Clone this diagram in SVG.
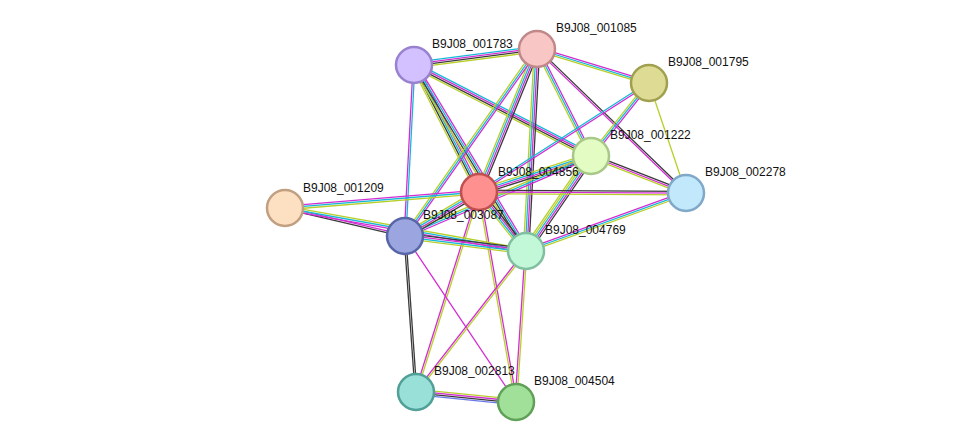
<svg xmlns="http://www.w3.org/2000/svg" width="976" height="448" viewBox="0 0 976 448">
<style>
line{stroke-width:1.3;fill:none}
.c{stroke:#16b8d8}.m{stroke:#d22cd2}.y{stroke:#b8cf2a}.k{stroke:#3a3a3a}.b{stroke:#6a78e8}
circle{stroke-width:2.5}
text{font-family:"Liberation Sans",Arial,sans-serif;font-size:12px;fill:#111}
</style>
<rect width="976" height="448" fill="#fff"/>
<g id="connectors">
<g transform="translate(414,65) rotate(-7.41)"><line class="c" x1="0" y1="-2.7" x2="124" y2="-2.7"/><line class="m" x1="0" y1="-0.9" x2="124" y2="-0.9"/><line class="k" x1="0" y1="0.9" x2="124" y2="0.9"/><line class="y" x1="0" y1="2.7" x2="124" y2="2.7"/></g>
<g transform="translate(414,65) rotate(62.9)"><line class="m" x1="0" y1="-2.7" x2="142.7" y2="-2.7"/><line class="c" x1="0" y1="-0.9" x2="142.7" y2="-0.9"/><line class="k" x1="0" y1="0.9" x2="142.7" y2="0.9"/><line class="y" x1="0" y1="2.7" x2="142.7" y2="2.7"/></g>
<g transform="translate(414,65) rotate(93)"><line class="c" x1="0" y1="-0.9" x2="171.2" y2="-0.9"/><line class="m" x1="0" y1="0.9" x2="171.2" y2="0.9"/></g>
<g transform="translate(414,65) rotate(27.2)"><line class="c" x1="0" y1="-2.7" x2="199" y2="-2.7"/><line class="m" x1="0" y1="-0.9" x2="199" y2="-0.9"/><line class="k" x1="0" y1="0.9" x2="199" y2="0.9"/><line class="y" x1="0" y1="2.7" x2="199" y2="2.7"/></g>
<g transform="translate(414,65) rotate(58.9)"><line class="m" x1="0" y1="-2.7" x2="217.1" y2="-2.7"/><line class="c" x1="0" y1="-0.9" x2="217.1" y2="-0.9"/><line class="k" x1="0" y1="0.9" x2="217.1" y2="0.9"/><line class="y" x1="0" y1="2.7" x2="217.1" y2="2.7"/></g>
<g transform="translate(537,49) rotate(16.9)"><line class="m" x1="0" y1="-1.8" x2="117" y2="-1.8"/><line class="c" x1="0" y1="0" x2="117" y2="0"/><line class="y" x1="0" y1="1.8" x2="117" y2="1.8"/></g>
<g transform="translate(537,49) rotate(63.2)"><line class="m" x1="0" y1="-1.8" x2="119.9" y2="-1.8"/><line class="c" x1="0" y1="0" x2="119.9" y2="0"/><line class="y" x1="0" y1="1.8" x2="119.9" y2="1.8"/></g>
<g transform="translate(537,49) rotate(112.1)"><line class="k" x1="0" y1="-2.7" x2="154.3" y2="-2.7"/><line class="m" x1="0" y1="-0.9" x2="154.3" y2="-0.9"/><line class="c" x1="0" y1="0.9" x2="154.3" y2="0.9"/><line class="y" x1="0" y1="2.7" x2="154.3" y2="2.7"/></g>
<g transform="translate(537,49) rotate(125.2)"><line class="m" x1="0" y1="-1.8" x2="228.9" y2="-1.8"/><line class="c" x1="0" y1="0" x2="228.9" y2="0"/><line class="y" x1="0" y1="1.8" x2="228.9" y2="1.8"/></g>
<g transform="translate(537,49) rotate(93.1)"><line class="k" x1="0" y1="-2.7" x2="202.3" y2="-2.7"/><line class="m" x1="0" y1="-0.9" x2="202.3" y2="-0.9"/><line class="c" x1="0" y1="0.9" x2="202.3" y2="0.9"/><line class="y" x1="0" y1="2.7" x2="202.3" y2="2.7"/></g>
<g transform="translate(537,49) rotate(44)"><line class="k" x1="0" y1="-0.9" x2="207.2" y2="-0.9"/><line class="m" x1="0" y1="0.9" x2="207.2" y2="0.9"/></g>
<g transform="translate(649,83) rotate(128.5)"><line class="m" x1="0" y1="-1.8" x2="93.2" y2="-1.8"/><line class="c" x1="0" y1="0" x2="93.2" y2="0"/><line class="y" x1="0" y1="1.8" x2="93.2" y2="1.8"/></g>
<g transform="translate(649,83) rotate(147.3)"><line class="m" x1="0" y1="-0.9" x2="201.9" y2="-0.9"/><line class="c" x1="0" y1="0.9" x2="201.9" y2="0.9"/></g>
<g transform="translate(649,83) rotate(71.4)"><line class="y" x1="0" y1="0" x2="116.1" y2="0"/></g>
<g transform="translate(591,156) rotate(162.2)"><line class="k" x1="0" y1="-2.7" x2="117.6" y2="-2.7"/><line class="m" x1="0" y1="-0.9" x2="117.6" y2="-0.9"/><line class="c" x1="0" y1="0.9" x2="117.6" y2="0.9"/><line class="y" x1="0" y1="2.7" x2="117.6" y2="2.7"/></g>
<g transform="translate(591,156) rotate(156.7)"><line class="m" x1="0" y1="-1.8" x2="202.5" y2="-1.8"/><line class="c" x1="0" y1="0" x2="202.5" y2="0"/><line class="y" x1="0" y1="1.8" x2="202.5" y2="1.8"/></g>
<g transform="translate(591,156) rotate(124.4)"><line class="k" x1="0" y1="-3.6" x2="115.1" y2="-3.6"/><line class="m" x1="0" y1="-1.8" x2="115.1" y2="-1.8"/><line class="c" x1="0" y1="0" x2="115.1" y2="0"/><line class="y" x1="0" y1="1.8" x2="115.1" y2="1.8"/><line class="y" x1="0" y1="3.6" x2="115.1" y2="3.6"/></g>
<g transform="translate(591,156) rotate(21.3)"><line class="k" x1="0" y1="-1.8" x2="102" y2="-1.8"/><line class="m" x1="0" y1="0" x2="102" y2="0"/><line class="y" x1="0" y1="1.8" x2="102" y2="1.8"/></g>
<g transform="translate(479,192) rotate(0.3)"><line class="k" x1="0" y1="-1.8" x2="207" y2="-1.8"/><line class="m" x1="0" y1="0" x2="207" y2="0"/><line class="y" x1="0" y1="1.8" x2="207" y2="1.8"/></g>
<g transform="translate(479,192) rotate(175.3)"><line class="y" x1="0" y1="-1.8" x2="194.7" y2="-1.8"/><line class="c" x1="0" y1="0" x2="194.7" y2="0"/><line class="m" x1="0" y1="1.8" x2="194.7" y2="1.8"/></g>
<g transform="translate(479,192) rotate(149.3)"><line class="k" x1="0" y1="-2.7" x2="86.1" y2="-2.7"/><line class="m" x1="0" y1="-0.9" x2="86.1" y2="-0.9"/><line class="c" x1="0" y1="0.9" x2="86.1" y2="0.9"/><line class="y" x1="0" y1="2.7" x2="86.1" y2="2.7"/></g>
<g transform="translate(479,192) rotate(51.5)"><line class="k" x1="0" y1="-2.7" x2="75.4" y2="-2.7"/><line class="m" x1="0" y1="-0.9" x2="75.4" y2="-0.9"/><line class="c" x1="0" y1="0.9" x2="75.4" y2="0.9"/><line class="y" x1="0" y1="2.7" x2="75.4" y2="2.7"/></g>
<g transform="translate(479,192) rotate(107.5)"><line class="y" x1="0" y1="-0.9" x2="209.7" y2="-0.9"/><line class="m" x1="0" y1="0.9" x2="209.7" y2="0.9"/></g>
<g transform="translate(479,192) rotate(80)"><line class="m" x1="0" y1="-0.9" x2="213.2" y2="-0.9"/><line class="y" x1="0" y1="0.9" x2="213.2" y2="0.9"/></g>
<g transform="translate(285,208) rotate(13.1)"><line class="m" x1="0" y1="-0.9" x2="123.2" y2="-0.9"/><line class="k" x1="0" y1="0.9" x2="123.2" y2="0.9"/></g>
<g transform="translate(285,208) rotate(10.1)"><line class="y" x1="0" y1="-1.8" x2="244.8" y2="-1.8"/><line class="c" x1="0" y1="0" x2="244.8" y2="0"/><line class="m" x1="0" y1="1.8" x2="244.8" y2="1.8"/></g>
<g transform="translate(405,236) rotate(7.1)"><line class="k" x1="0" y1="-2.7" x2="121.9" y2="-2.7"/><line class="m" x1="0" y1="-0.9" x2="121.9" y2="-0.9"/><line class="c" x1="0" y1="0.9" x2="121.9" y2="0.9"/><line class="y" x1="0" y1="2.7" x2="121.9" y2="2.7"/></g>
<g transform="translate(526,251) rotate(-19.9)"><line class="m" x1="0" y1="-1.8" x2="170.2" y2="-1.8"/><line class="c" x1="0" y1="0" x2="170.2" y2="0"/><line class="y" x1="0" y1="1.8" x2="170.2" y2="1.8"/></g>
<g transform="translate(405,236) rotate(86)"><line class="k" x1="0" y1="-0.9" x2="156.4" y2="-0.9"/><line class="k" x1="0" y1="0.9" x2="156.4" y2="0.9"/></g>
<g transform="translate(405,236) rotate(56.2)"><line class="m" x1="0" y1="0" x2="199.7" y2="0"/></g>
<g transform="translate(526,251) rotate(127.9)"><line class="y" x1="0" y1="-0.9" x2="178.8" y2="-0.9"/><line class="m" x1="0" y1="0.9" x2="178.8" y2="0.9"/></g>
<g transform="translate(526,251) rotate(93.8)"><line class="y" x1="0" y1="-0.9" x2="151.3" y2="-0.9"/><line class="m" x1="0" y1="0.9" x2="151.3" y2="0.9"/></g>
<g transform="translate(416,392) rotate(5.7)"><line class="y" x1="0" y1="-2.7" x2="100.5" y2="-2.7"/><line class="m" x1="0" y1="-0.9" x2="100.5" y2="-0.9"/><line class="k" x1="0" y1="0.9" x2="100.5" y2="0.9"/><line class="b" x1="0" y1="2.7" x2="100.5" y2="2.7"/></g>
</g>
<g id="n001783"><circle cx="414" cy="65" r="18" fill="#d3c0fe" stroke="#9882d0"/><text x="432" y="48">B9J08_001783</text></g>
<g id="n001085"><circle cx="537" cy="49" r="18" fill="#f9c6c6" stroke="#c08888"/><text x="556" y="32">B9J08_001085</text></g>
<g id="n001795"><circle cx="649" cy="83" r="18" fill="#dedc94" stroke="#a0a050"/><text x="668" y="66">B9J08_001795</text></g>
<g id="n001222"><circle cx="591" cy="156" r="18" fill="#e2fcc4" stroke="#a8c888"/><text x="610" y="139">B9J08_001222</text></g>
<g id="n002278"><circle cx="686" cy="193" r="18" fill="#c2e8fc" stroke="#80a8c8"/><text x="705" y="176">B9J08_002278</text></g>
<g id="n004856"><circle cx="479" cy="192" r="18" fill="#ff9090" stroke="#c05050"/><text x="498" y="176">B9J08_004856</text></g>
<g id="n001209"><circle cx="285" cy="208" r="18" fill="#fde0c2" stroke="#c0a080"/><text x="303" y="192">B9J08_001209</text></g>
<g id="n003087"><circle cx="405" cy="236" r="18" fill="#9ba6e0" stroke="#5866a8"/><text x="423" y="219">B9J08_003087</text></g>
<g id="n004769"><circle cx="526" cy="251" r="18" fill="#c2f8d8" stroke="#80c0a0"/><text x="545" y="234">B9J08_004769</text></g>
<g id="n002813"><circle cx="416" cy="392" r="18" fill="#98e0d8" stroke="#50a098"/><text x="434" y="375">B9J08_002813</text></g>
<g id="n004504"><circle cx="516" cy="402" r="18" fill="#a0e098" stroke="#60a058"/><text x="534" y="385">B9J08_004504</text></g>
</svg>
